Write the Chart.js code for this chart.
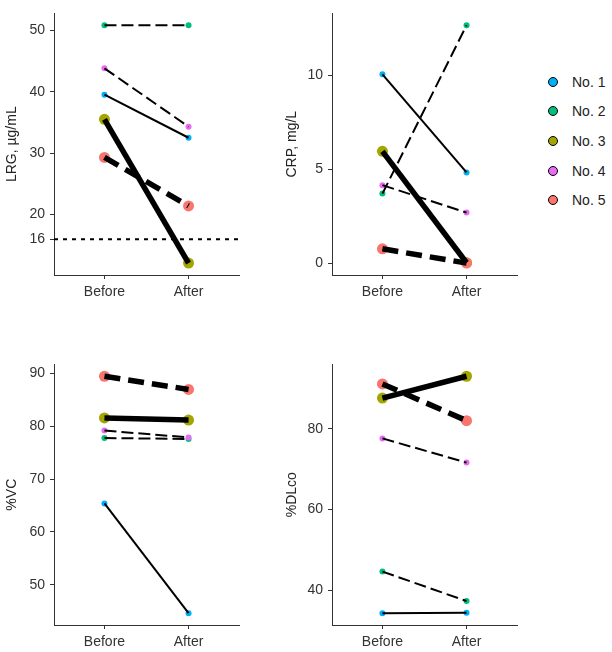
<!DOCTYPE html>
<html>
<head>
<meta charset="utf-8">
<script src="https://cdn.jsdelivr.net/npm/chart.js@4"></script>
<style>
  body { margin: 0; width: 612px; height: 652px; overflow: hidden; background: #fff; position: relative; font-family: "Liberation Sans", Arial, sans-serif; }
  canvas { position: absolute; }
  .legend { position: absolute; left: 548px; top: 67px; }
  .item { height: 29.6px; display: flex; align-items: center; font-size: 14px; color: #222; }
  .dot { width: 10px; height: 10px; border-radius: 50%; border: 1px solid #000; margin-right: 14px; box-sizing: border-box; }
</style>
</head>
<body>
<canvas id="lrgChart" width="245" height="305" style="left:0;top:0"></canvas>
<canvas id="crpChart" width="243" height="305" style="left:280px;top:0"></canvas>
<canvas id="vcChart" width="245" height="301" style="left:0;top:351px"></canvas>
<canvas id="dlcoChart" width="243" height="301" style="left:280px;top:351px"></canvas>
<div class="legend" id="legend"></div>

<script>
// ====== Data ======
const timepoints = ["Before", "After"];
const patients = ["No. 1", "No. 2", "No. 3", "No. 4", "No. 5"];

const lrgBefore = [39.5, 50.8, 35.5, 43.8, 29.3];
const lrgAfter = [32.5, 50.8, 12.1, 34.3, 21.4];
const lrgTicks = [16, 20, 30, 40, 50];
const lrgCutoff = 16;

const crpBefore = [10.05, 3.7, 5.95, 4.15, 0.76];
const crpAfter = [4.83, 12.66, 0.02, 2.69, 0.0];
const crpTicks = [0, 5, 10];

const vcBefore = [65.4, 77.8, 81.6, 79.2, 89.5];
const vcAfter = [44.6, 77.6, 81.2, 77.9, 87.0];
const vcTicks = [50, 60, 70, 80, 90];

const dlcoBefore = [34.3, 44.6, 87.6, 77.6, 91.1];
const dlcoAfter = [34.4, 37.3, 93.0, 71.6, 82.0];
const dlcoTicks = [40, 60, 80];

// ====== Styles ======
const colors = ["#00B0F6", "#00BF7D", "#A3A500", "#E76BF3", "#F8766D"];
const lineWidths = [2, 2, 5.5, 2, 5.5];
const dashes = [[], [12, 5], [], [12, 5], [16, 8]];
const pointSizes = [3, 3, 5.5, 3, 5.5];
const FONT = "'Liberation Sans', Arial, sans-serif";

// ====== Legend ======
const legendEl = document.getElementById("legend");
patients.forEach((name, i) => {
  const row = document.createElement("div");
  row.className = "item";
  row.innerHTML = `<span class="dot" style="background:${colors[i]}"></span>${name}`;
  legendEl.appendChild(row);
});

// ====== Build one panel ======
function makePanel(id, yTitle, before, after, yTicks, yWidth, xHeight, cutoff) {
  const datasets = [];
  patients.forEach((name, i) => {
    const pts = [{ x: 1, y: before[i] }, { x: 2, y: after[i] }];
    datasets.push({
      label: name,
      data: pts,
      borderColor: "#000",
      borderWidth: lineWidths[i],
      borderDash: dashes[i],
      pointRadius: 0,
      order: 4 - i
    });
    datasets.push({
      label: name + " pts",
      data: pts,
      showLine: false,
      pointRadius: pointSizes[i],
      pointBackgroundColor: colors[i],
      pointBorderWidth: 0,
      order: 14 - i
    });
  });
  if (cutoff !== undefined) {
    datasets.push({
      label: "cutoff",
      data: [{ x: 0.4, y: cutoff }, { x: 2.6, y: cutoff }],
      borderColor: "#000",
      borderWidth: 2,
      borderDash: [4, 5],
      pointRadius: 0,
      order: 20
    });
  }

  const all = before.concat(after);
  const lo = Math.min(...all), hi = Math.max(...all);
  const pad = (hi - lo) * 0.05;

  new Chart(document.getElementById(id), {
    type: "line",
    data: { datasets: datasets },
    options: {
      responsive: false,
      animation: false,
      layout: { padding: { top: 1, right: 6, left: 0, bottom: 0 } },
      plugins: { legend: { display: false }, tooltip: { enabled: false } },
      scales: {
        x: {
          type: "linear",
          min: 0.4,
          max: 2.6,
          afterBuildTicks: s => { s.ticks = [{ value: 1 }, { value: 2 }]; },
          afterFit: s => { s.height = xHeight; },
          ticks: { callback: v => timepoints[v - 1], color: "#333", font: { family: FONT, size: 14 }, padding: 5, maxRotation: 0 },
          grid: { drawOnChartArea: false, drawTicks: true, tickLength: 4, color: "#333" },
          border: { display: true, color: "#333", width: 1 }
        },
        y: {
          type: "linear",
          min: lo - pad,
          max: hi + pad,
          afterBuildTicks: s => { s.ticks = yTicks.map(v => ({ value: v })); },
          afterFit: s => { s.width = yWidth; },
          ticks: { color: "#333", font: { family: FONT, size: 14 }, padding: 5 },
          grid: { drawOnChartArea: false, drawTicks: true, tickLength: 4, color: "#333" },
          border: { display: true, color: "#333", width: 1 },
          title: { display: true, text: yTitle, color: "#222", font: { family: FONT, size: 14 }, padding: { top: 4, bottom: 4 } }
        }
      }
    }
  });
}

// ====== Render ======
makePanel("lrgChart", "LRG, \u00b5g/mL", lrgBefore, lrgAfter, lrgTicks, 54, 30, lrgCutoff);
makePanel("crpChart", "CRP, mg/L", crpBefore, crpAfter, crpTicks, 52, 30);
makePanel("vcChart", "%VC", vcBefore, vcAfter, vcTicks, 54, 27);
makePanel("dlcoChart", "%DLco", dlcoBefore, dlcoAfter, dlcoTicks, 52, 27);
</script>
</body>
</html>
